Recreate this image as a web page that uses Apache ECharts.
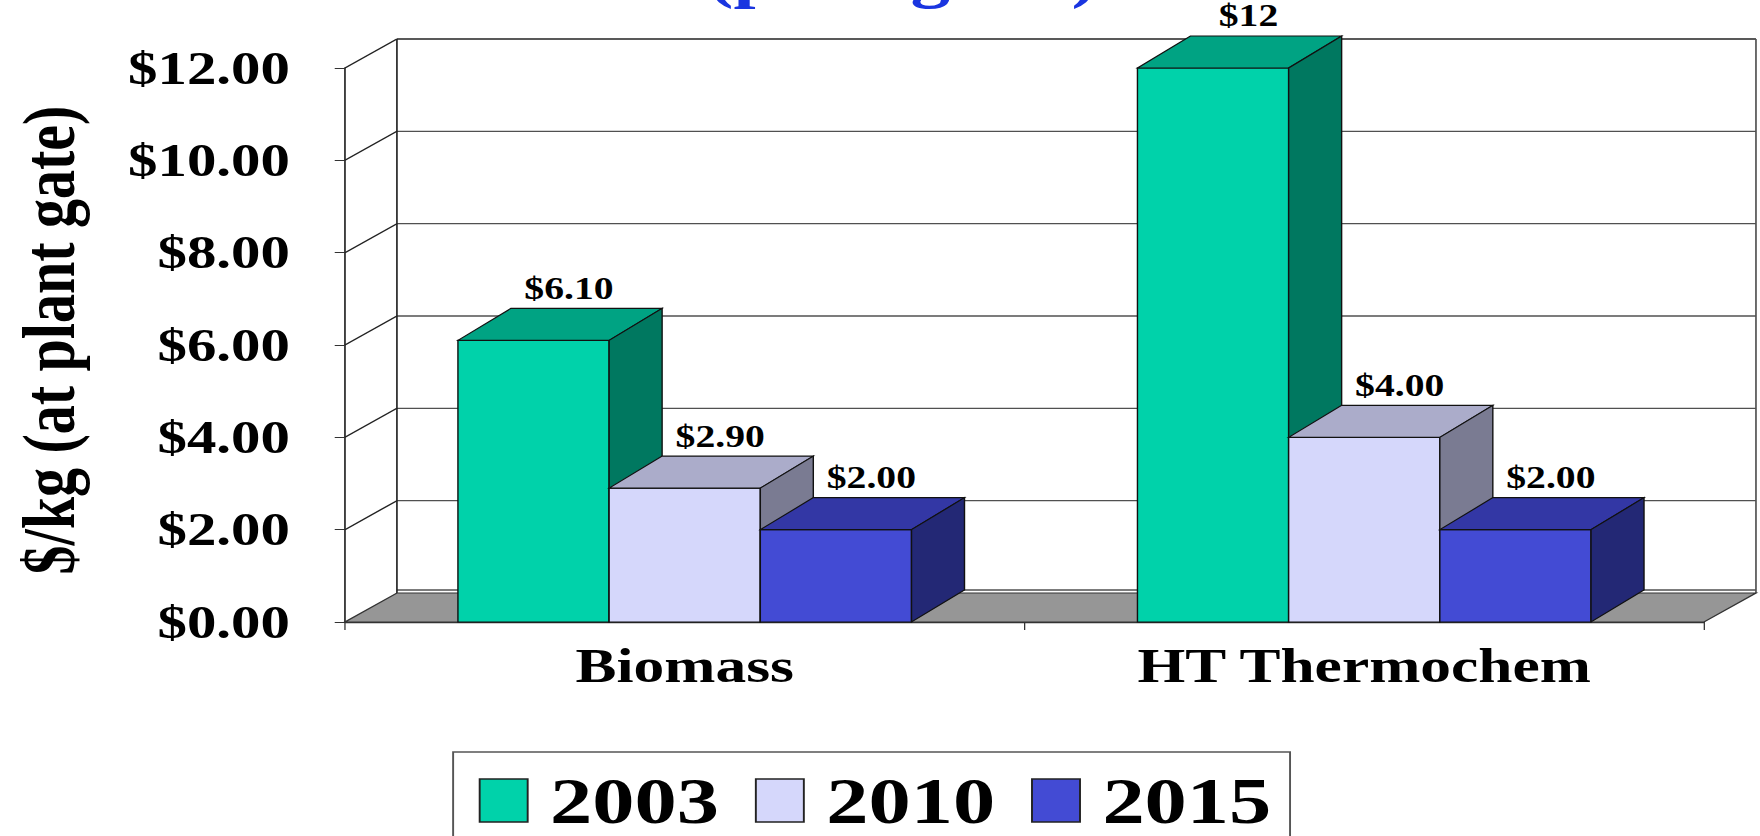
<!DOCTYPE html>
<html>
<head>
<meta charset="utf-8">
<script src="https://cdn.jsdelivr.net/npm/echarts@6/dist/echarts.min.js"></script>
<style>
  html, body { margin: 0; padding: 0; background: #fff; overflow: hidden; }
  /* the source picture is stretched sideways, so the chart is drawn narrow and widened */
  #chart { position: absolute; left: 0; top: 0; width: 1375px; height: 836px; transform: scaleX(1.28); transform-origin: 0 0; }
</style>
</head>
<body>
<div id="chart"></div>
<script>
  const categories = ["Biomass", "HT Thermochem"];
  const years = ["2003", "2010", "2015"];
  const cost2003 = [6.1, 12];
  const cost2010 = [2.9, 4.0];
  const cost2015 = [2.0, 2.0];
  const labels2003 = ["$6.10", "$12"];
  const labels2010 = ["$2.90", "$4.00"];
  const labels2015 = ["$2.00", "$2.00"];
  const yTicks = [0, 2, 4, 6, 8, 10, 12];

  const FONT = '"Liberation Serif", "Times New Roman", serif';
  // face colours: front / top / side
  const FACES = [
    ["#00d2aa", "#00a383", "#007860"],
    ["#d5d7fb", "#abacca", "#7a7b92"],
    ["#434bd4", "#3337a5", "#232875"]
  ];
  const WALL = { dx: 40.6, dy: 29 };
  const BAR = { dx: 41.4, dy: 32, frac: 0.2225 };

  // back wall, side wall and floor
  function frameItem(params, api) {
    const cs = params.coordSys;
    const L = cs.x, R = cs.x + cs.width;
    const y0 = api.coord([0, 0])[1];
    const top = api.coord([0, yTicks[yTicks.length - 1]])[1];
    const ln = (x1, y1, x2, y2, c) => ({
      type: "line", shape: { x1, y1, x2, y2 },
      style: { stroke: c || "#3a3a3a", lineWidth: 1.3 }
    });
    const kids = [];
    yTicks.slice(1).forEach(v => {
      const y = api.coord([0, v])[1];
      kids.push(ln(L + WALL.dx, y - WALL.dy, R + WALL.dx, y - WALL.dy, v === 12 ? "#222" : "#505050"));
      kids.push(ln(L, y, L + WALL.dx, y - WALL.dy, "#222"));
    });
    kids.push(ln(L + WALL.dx, y0 - WALL.dy - 3, R + WALL.dx, y0 - WALL.dy - 3, "#505050"));
    kids.push(ln(L + WALL.dx, y0 - WALL.dy, L + WALL.dx, top - WALL.dy, "#222"));
    kids.push(ln(R + WALL.dx, y0 - WALL.dy, R + WALL.dx, top - WALL.dy, "#505050"));
    kids.push({
      type: "polygon",
      shape: { points: [[L, y0], [R, y0], [R + WALL.dx, y0 - WALL.dy], [L + WALL.dx, y0 - WALL.dy]] },
      style: { fill: "#969696", stroke: "#333", lineWidth: 1.2 }
    });
    return { type: "group", children: kids };
  }

  function barItem(s, labels) {
    return function (params, api) {
      const ci = api.value(0), v = api.value(1);
      const band = api.size([1, 0])[0];
      const bw = band * BAR.frac;
      const c = api.coord([ci, v]);
      const yb = api.coord([ci, 0])[1];
      const x0 = c[0] - 1.5 * bw + s * bw, x1 = x0 + bw, yt = c[1];
      const dx = BAR.dx, dy = BAR.dy;
      const f = FACES[s];
      const edge = { stroke: "#111", lineWidth: 1.1 };
      return {
        type: "group",
        children: [
          { type: "polygon", shape: { points: [[x0, yt], [x1, yt], [x1, yb], [x0, yb]] }, style: { fill: f[0], ...edge } },
          { type: "polygon", shape: { points: [[x0, yt], [x1, yt], [x1 + dx, yt - dy], [x0 + dx, yt - dy]] }, style: { fill: f[1], ...edge } },
          { type: "polygon", shape: { points: [[x1, yt], [x1 + dx, yt - dy], [x1 + dx, yb - dy], [x1, yb]] }, style: { fill: f[2], ...edge } },
          {
            type: "text", x: (x0 + x1 + dx) / 2 + 7, y: yt - dy - 20,
            style: { text: labels[params.dataIndex], fill: "#000", font: "bold 31px " + FONT, align: "center", verticalAlign: "middle" }
          }
        ]
      };
    };
  }

  const seriesData = [cost2003, cost2010, cost2015];
  const seriesLabels = [labels2003, labels2010, labels2015];

  const chart = echarts.init(document.getElementById("chart"), null, { renderer: "svg" });
  chart.setOption({
    animation: false,
    backgroundColor: "#fff",
    title: {
      text: "(per kg H2)", left: 700, textAlign: "center", top: -61,
      textStyle: { color: "#1a35e0", fontFamily: FONT, fontWeight: "bold", fontSize: 62 }
    },
    grid: { left: 269.5, right: 43.75, top: 68, bottom: 214 },
    legend: {
      data: years, left: 354, top: 752, orient: "horizontal",
      icon: "rect", itemWidth: 37.5, itemHeight: 43, itemGap: 28,
      padding: [15.5, 14.6, 40, 20],
      borderColor: "#555", borderWidth: 1.5, backgroundColor: "#fff",
      itemStyle: { borderColor: "#222", borderWidth: 1.5 },
      textStyle: { fontFamily: FONT, fontWeight: "bold", fontSize: 66, color: "#000", padding: [0, 0, 0, 12.5] }
    },
    xAxis: {
      type: "category", data: categories,
      axisLine: { show: true, lineStyle: { color: "#333", width: 1.3 } },
      axisTick: { show: true, length: 8, lineStyle: { color: "#333" } },
      axisLabel: { color: "#000", fontFamily: FONT, fontWeight: "bold", fontSize: 48, margin: 20 },
      splitLine: { show: false }
    },
    yAxis: {
      type: "value", min: 0, max: 12, interval: 2,
      name: "$/kg (at plant gate)", nameLocation: "middle", nameGap: 202,
      nameTextStyle: { color: "#000", fontFamily: FONT, fontWeight: "bold", fontSize: 58, padding: [0, 0, 0, 10] },
      axisLine: { show: true, lineStyle: { color: "#222", width: 1.3 } },
      axisTick: { show: true, length: 8, lineStyle: { color: "#333" } },
      axisLabel: {
        color: "#000", fontFamily: FONT, fontWeight: "bold", fontSize: 46, margin: 43,
        padding: [0, 0, 6, 0], formatter: v => "$" + v.toFixed(2)
      },
      splitLine: { show: false }
    },
    series: [
      { type: "custom", name: "frame", data: [[0, 0]], renderItem: frameItem, silent: true, z: 1 }
    ].concat(years.map((y, s) => ({
      type: "custom", name: y, z: 2,
      itemStyle: { color: FACES[s][0] },
      data: seriesData[s].map((v, i) => [i, v]),
      encode: { x: 0, y: 1 },
      renderItem: barItem(s, seriesLabels[s])
    })))
  });
</script>
</body>
</html>
